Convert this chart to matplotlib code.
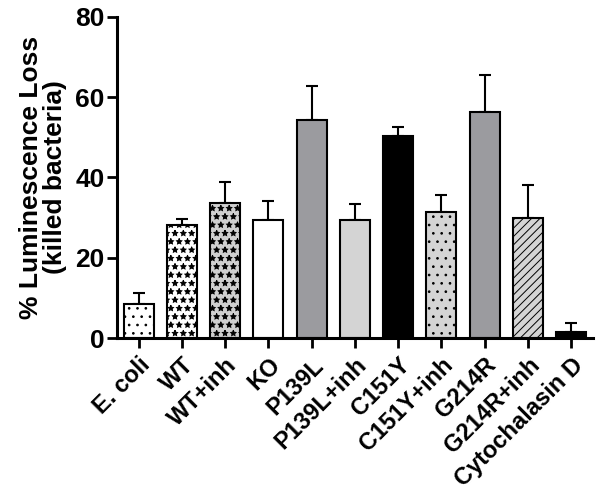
import matplotlib.pyplot as plt

plt.rcParams['font.family'] = ['Liberation Sans', 'DejaVu Sans']
plt.rcParams['font.weight'] = 'bold'
plt.rcParams['hatch.linewidth'] = 0.7

labels = ["E. coli", "WT", "WT+inh", "KO", "P139L", "P139L+inh", "C151Y",
          "C151Y+inh", "G214R", "G214R+inh", "Cytochalasin D"]
means = [8.5, 28.1, 33.7, 29.4, 54.3, 29.4, 50.2, 31.4, 56.3, 30.0, 1.5]
errs = [2.8, 1.5, 5.2, 4.8, 8.5, 4.0, 2.4, 4.3, 9.2, 8.1, 2.2]

colors = ["white", "white", "#cfcfcf", "white", "#9b9b9f", "#d4d4d4", "black",
          "#d4d4d4", "#9b9b9f", "#d4d4d4", "black"]
hatches = ["..", "**", "**", "", "", "", "", "..", "", "////", ""]

fig = plt.figure(figsize=(6, 4.93), dpi=100)
ax = fig.add_axes([0.195, 0.314, 0.793, 0.652])

x = list(range(len(labels)))
bars = ax.bar(x, means, width=0.69, color=colors, edgecolor="black",
              linewidth=1.5, zorder=2)
for b, h in zip(bars, hatches):
    b.set_hatch(h)
ax.errorbar(x, means, yerr=[[0] * len(errs), errs], fmt="none", ecolor="black",
            elinewidth=1.5, capsize=4, capthick=1.5, zorder=1)

ax.set_xlim(-0.5, 10.5)
ax.set_ylim(0, 80)
ax.set_yticks([0, 20, 40, 60, 80])
ax.set_xticks(x)
ax.set_xticklabels(labels, rotation=45, ha="right", rotation_mode="anchor",
                   fontsize=17, fontweight="bold")
ax.tick_params(axis="y", labelsize=19, width=2, length=7, pad=2)
ax.tick_params(axis="x", width=2, length=7, pad=4)
for lab in ax.get_yticklabels():
    lab.set_fontweight("bold")

ax.spines["top"].set_visible(False)
ax.spines["right"].set_visible(False)
ax.spines["left"].set_linewidth(2.2)
ax.spines["bottom"].set_linewidth(2.2)

ax.set_ylabel("% Luminescence Loss\n(killed bacteria)", fontsize=19,
              fontweight="bold", linespacing=1.0, labelpad=6)

fig.savefig("out.png", dpi=100)
